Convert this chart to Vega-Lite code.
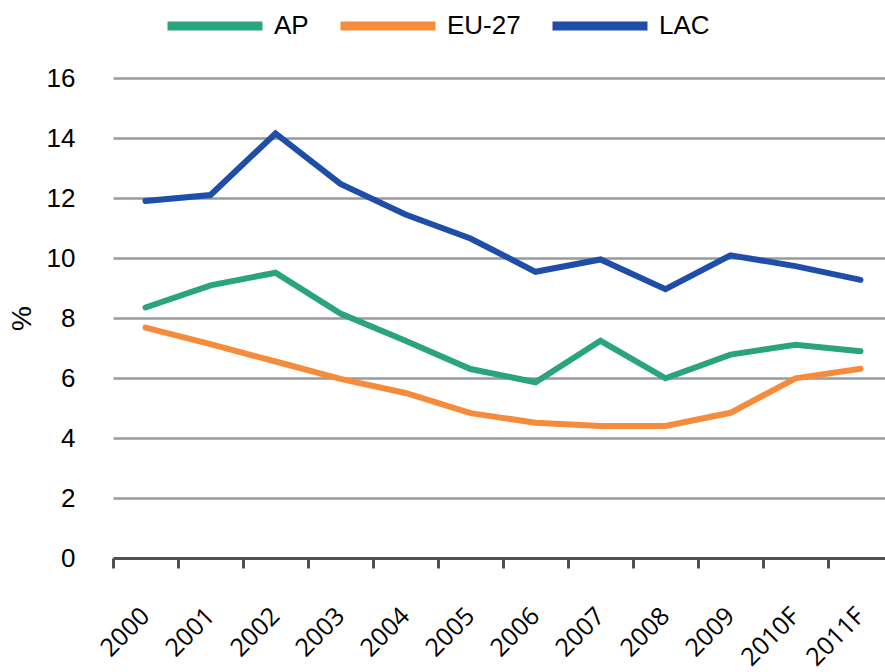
{
  "$schema": "https://vega.github.io/schema/vega-lite/v6.json",
  "width": 780,
  "height": 480,
  "autosize": "none",
  "padding": {"left": 113, "top": 78, "right": 0, "bottom": 114},
  "background": "white",
  "config": {"view": {"stroke": null}},
  "data": {
    "values": [
      {"year": "2000", "series": "AP", "value": 8.35},
      {"year": "2001", "series": "AP", "value": 9.09},
      {"year": "2002", "series": "AP", "value": 9.51},
      {"year": "2003", "series": "AP", "value": 8.15},
      {"year": "2004", "series": "AP", "value": 7.24},
      {"year": "2005", "series": "AP", "value": 6.3},
      {"year": "2006", "series": "AP", "value": 5.86},
      {"year": "2007", "series": "AP", "value": 7.24},
      {"year": "2008", "series": "AP", "value": 5.99},
      {"year": "2009", "series": "AP", "value": 6.78},
      {"year": "2010F", "series": "AP", "value": 7.11},
      {"year": "2011F", "series": "AP", "value": 6.89},
      {"year": "2000", "series": "EU-27", "value": 7.68},
      {"year": "2001", "series": "EU-27", "value": 7.13},
      {"year": "2002", "series": "EU-27", "value": 6.55},
      {"year": "2003", "series": "EU-27", "value": 5.97},
      {"year": "2004", "series": "EU-27", "value": 5.5},
      {"year": "2005", "series": "EU-27", "value": 4.83},
      {"year": "2006", "series": "EU-27", "value": 4.51},
      {"year": "2007", "series": "EU-27", "value": 4.4},
      {"year": "2008", "series": "EU-27", "value": 4.4},
      {"year": "2009", "series": "EU-27", "value": 4.84},
      {"year": "2010F", "series": "EU-27", "value": 5.99},
      {"year": "2011F", "series": "EU-27", "value": 6.31},
      {"year": "2000", "series": "LAC", "value": 11.9},
      {"year": "2001", "series": "LAC", "value": 12.1},
      {"year": "2002", "series": "LAC", "value": 14.15},
      {"year": "2003", "series": "LAC", "value": 12.47},
      {"year": "2004", "series": "LAC", "value": 11.45},
      {"year": "2005", "series": "LAC", "value": 10.65},
      {"year": "2006", "series": "LAC", "value": 9.54},
      {"year": "2007", "series": "LAC", "value": 9.95},
      {"year": "2008", "series": "LAC", "value": 8.96},
      {"year": "2009", "series": "LAC", "value": 10.09},
      {"year": "2010F", "series": "LAC", "value": 9.73},
      {"year": "2011F", "series": "LAC", "value": 9.27}
    ]
  },
  "mark": {"type": "line", "strokeWidth": 6, "strokeCap": "round", "strokeJoin": "miter"},
  "encoding": {
    "x": {
      "field": "year",
      "type": "ordinal",
      "bandPosition": 0.5,
      "scale": {"type": "band", "paddingInner": 0, "paddingOuter": 0},
      "axis": {
        "title": null,
        "grid": false,
        "tickBand": "extent",
        "domainColor": "#4d5257",
        "domainWidth": 3,
        "tickColor": "#4d5257",
        "tickWidth": 3,
        "tickSize": 10,
        "labelAngle": -45,
        "labelFont": "Open Sans",
        "labelFontSize": 25,
        "labelColor": "#000000",
        "labelPadding": 35,
        "labelOffset": -9
      }
    },
    "y": {
      "field": "value",
      "type": "quantitative",
      "scale": {"domain": [0, 16], "nice": false},
      "axis": {
        "title": "%",
        "titleFont": "Liberation Sans",
        "titleFontSize": 28,
        "titleFontWeight": "normal",
        "titleColor": "#000000",
        "titlePadding": 10,
        "values": [0, 2, 4, 6, 8, 10, 12, 14, 16],
        "domain": false,
        "ticks": false,
        "grid": true,
        "gridColor": "#979a9e",
        "gridWidth": 2.5,
        "labelFont": "Liberation Sans",
        "labelFontSize": 26,
        "labelColor": "#000000",
        "labelPadding": 38
      }
    },
    "color": {
      "field": "series",
      "type": "nominal",
      "scale": {"domain": ["AP", "EU-27", "LAC"], "range": ["#2aa37f", "#f58c3c", "#1f4ea8"]},
      "legend": {
        "title": null,
        "orient": "none",
        "direction": "horizontal",
        "legendX": 50,
        "legendY": -104,
        "symbolType": "stroke",
        "symbolSize": 9025,
        "symbolStrokeWidth": 9,
        "labelFont": "Liberation Sans",
        "labelFontSize": 26,
        "labelColor": "#000000",
        "labelOffset": 7,
        "columnPadding": 13
      }
    }
  }
}
